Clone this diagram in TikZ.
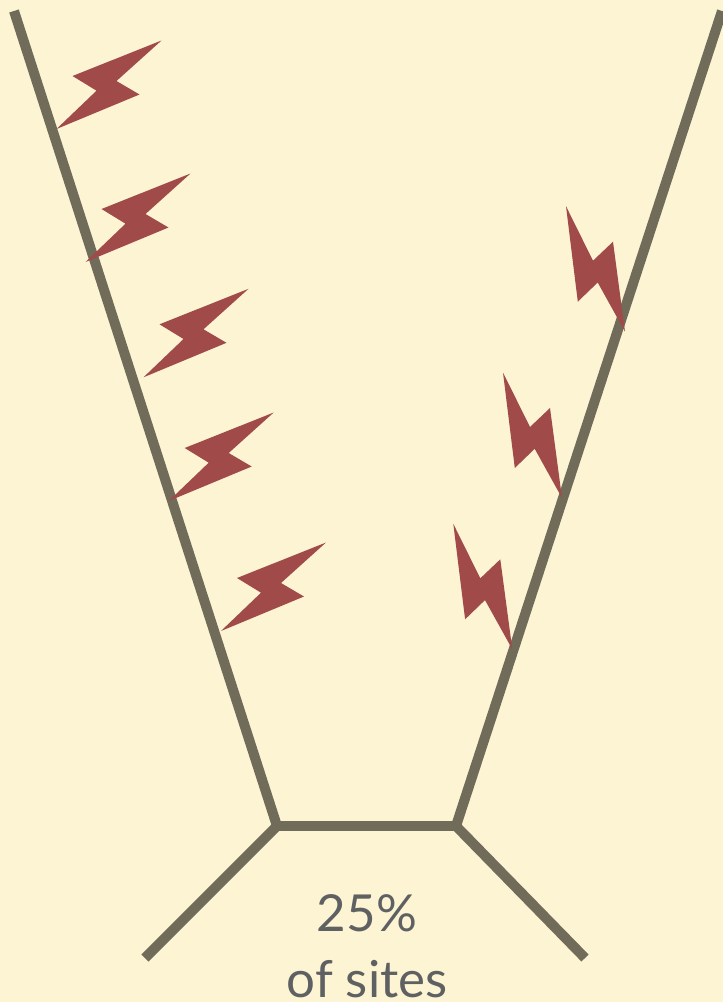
\documentclass[tikz,border=0pt]{standalone}
\usepackage{fontspec}
\setmainfont{Lato}
\definecolor{paper}{HTML}{FCF4D3}
\definecolor{branch}{HTML}{716B5A}
\definecolor{boltred}{HTML}{A04B49}
\definecolor{labelgrey}{HTML}{5F6062}
\tikzset{
  branchline/.style={draw=branch,line width=10pt,line cap=butt,line join=miter},
  labeltext/.style={text=labelgrey,font=\fontsize{51}{51}\selectfont,inner sep=0pt,anchor=base}
}
\newcommand{\leftboltat}[2]{\fill[boltred,shift={(#1,#2)}] (0,0) -- (40,-38.3) -- (16,-53) -- (105,-88.5) -- (60,-48) -- (83,-34.5) -- cycle;}
\newcommand{\rightboltat}[2]{\fill[boltred,shift={(#1,#2)}] (0,0) -- (-12,-90) -- (-32,-71) -- (-59,-125.5) -- (-47.2,-30) -- (-27.3,-49.2) -- cycle;}
\begin{document}
\begin{tikzpicture}[x=1pt,y=-1pt]
\useasboundingbox (0,0) rectangle (723,1002);
\fill[paper] (0,0) rectangle (723,1002);
\coordinate (topL) at (14,11);
\coordinate (topR) at (722,11);
\coordinate (joinL) at (277,826);
\coordinate (joinR) at (456,826);
\coordinate (legL) at (145,958);
\coordinate (legR) at (585,958);
\draw[branchline] (topL) -- (joinL) -- (legL);
\draw[branchline] (topR) -- (joinR) -- (legR);
\draw[branchline] (joinL) -- (joinR);
\leftboltat{56.5}{129}
\leftboltat{85.5}{262}
\leftboltat{143.5}{377.3}
\leftboltat{168.7}{501}
\leftboltat{221}{631}
\rightboltat{625}{331.7}
\rightboltat{562}{498}
\rightboltat{512.3}{649.3}
\node[labeltext] (pct) at (367,931) {25\%};
\node[labeltext] (sites) at (367,997) {of sites};
\end{tikzpicture}
\end{document}
